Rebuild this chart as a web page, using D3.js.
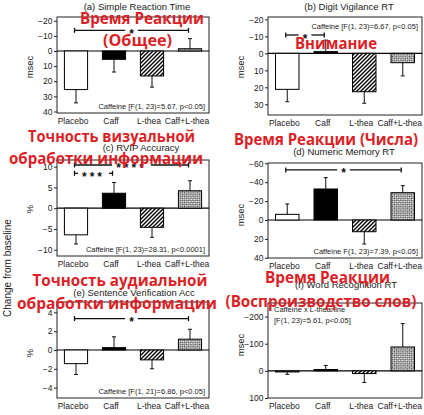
<!DOCTYPE html>
<html><head><meta charset="utf-8">
<script src="https://cdn.jsdelivr.net/npm/d3@7/dist/d3.min.js"></script>
<style>
html,body{margin:0;padding:0;background:#fff;}
svg{display:block;font-family:"Liberation Sans",Arial,sans-serif;}
</style></head>
<body>
<svg id="chart" width="424" height="415"></svg>
<script>
// ---------- data ----------
const categories = ["Placebo", "Caff", "L-thea", "Caff+L-thea"];

const titles = ["(a) Simple Reaction Time", "(b) Digit Vigilance RT", "(c) RVIP Accuracy",
                "(d) Numeric Memory RT", "(e) Sentence Verification Acc", "(f) Word Recognition RT"];
const yLabels = ["msec", "msec", "%", "msec", "%", "msec"];

const srtMeans = [25.5, 5.5, 16.5, -1.5];
const srtErr   = [8.8, 8.4, 7.4, 6.7];
const dvMeans  = [21.2, -1.0, 22.6, 5.5];
const dvErr    = [7.3, 6.8, 6.8, 7.8];
const rvipMeans = [-6.4, 3.6, -4.6, 4.2];
const rvipErr   = [2.2, 2.6, 2.4, 2.4];
const nmMeans  = [-6.0, -32.8, 12.4, -28.9];
const nmErr    = [11.0, 12.0, 13.0, 7.4];
const svMeans  = [-1.45, 0.25, -1.05, 1.15];
const svErr    = [1.15, 1.15, 0.95, 1.05];
const wrMeans  = [4, -5, 10, -88];
const wrErr    = [9, 15, 33, 86];

const srtTicks = [-20, -10, 0, 10, 20, 30, 40];
const dvTicks  = [-20, -10, 0, 10, 20, 30];
const rvipTicks = [-10, -5, 0, 5, 10];
const nmTicks  = [-60, -40, -20, 0, 20, 40];
const svTicks  = [-4, -2, 0, 2, 4];
const wrTicks  = [-200, -100, 0, 100];

const captions = [
  ["Caffeine [F(1, 23)=5.67, p<0.05]"],
  ["Caffeine [F(1, 23)=6.67, p<0.05]"],
  ["Caffeine [F(1, 23)=28.31, p<0.0001]"],
  ["Caffeine F(1, 23)=7.39, p<0.05]"],
  ["Caffeine [F(1, 21)=6.86, p<0.05]"],
  ["Caffeine x L-theanine", "[F(1, 23)=5.61, p<0.05]"]
];

// significance brackets: [panel, fromIndex, toIndex, level(value), stars]
const brackets = [
  [0, 0, 3, -13.7, "*"],
  [1, 0, 1, -10.8, "*"],
  [2, 0, 3, 10.4, "****"],
  [2, 0, 1, 8.4, "***"],
  [3, 0, 3, -53, "*"],
  [4, 0, 3, 3.34, "*"]
];

const overlayTexts = [
  "Время Реакции", "(Общее)", "Внимание",
  "Точность визуальной", "обработки информации",
  "Время Реакции (Числа)",
  "Точность аудиальной", "обработки информации",
  "Время Реакции", "(Воспроизводство слов)"
];

// ---------- layout ----------
const means = [srtMeans, dvMeans, rvipMeans, nmMeans, svMeans, wrMeans];
const errs  = [srtErr, dvErr, rvipErr, nmErr, svErr, wrErr];
const ticks = [srtTicks, dvTicks, rvipTicks, nmTicks, svTicks, wrTicks];
const L = {x0: 57, x1: 209}, R = {x0: 268, x1: 422};
const panels = [
  {x: L, y0: 17,  y1: 113, dom: [-22.5, 41],   tx: 137, ty: 10,  ly: 67,  cap: "br"},
  {x: R, y0: 17,  y1: 115, dom: [-21.4, 36.3], tx: 349, ty: 10,  ly: 67,  cap: "tr"},
  {x: L, y0: 160, y1: 256, dom: [11.6, -11.5], tx: 141, ty: 151, ly: 209, cap: "br"},
  {x: R, y0: 163, y1: 258, dom: [-60.3, 40.2], tx: 344, ty: 155, ly: 215, cap: "br"},
  {x: L, y0: 302, y1: 398, dom: [5.1, -5.1],   tx: 134, ty: 296, ly: 353, cap: "br"},
  {x: R, y0: 303, y1: 398, dom: [-250, 100],   tx: 346, ty: 288, ly: 345, cap: "tl"}
];
const overlayPos = [
  [142, 18, 124], [137.5, 40, 69], [336, 43, 82],
  [111.5, 136, 167], [106, 158, 194],
  [326, 139, 184],
  [120, 280, 175], [117, 303, 200],
  [327.5, 277, 125], [321, 301, 191]
];

const svg = d3.select("#chart");
const defs = svg.append("defs");
const hatch = defs.append("pattern").attr("id", "hatch").attr("patternUnits", "userSpaceOnUse")
  .attr("width", 4).attr("height", 4);
hatch.append("rect").attr("width", 4).attr("height", 4).attr("fill", "#fff");
hatch.append("path").attr("d", "M-1,1 L1,-1 M0,4 L4,0 M3,5 L5,3")
  .attr("stroke", "#000").attr("stroke-width", 1.4);
const check = defs.append("pattern").attr("id", "check").attr("patternUnits", "userSpaceOnUse")
  .attr("width", 3).attr("height", 3).attr("patternTransform", "rotate(45)");
check.append("rect").attr("width", 3).attr("height", 3).attr("fill", "#fff");
check.append("rect").attr("width", 1.5).attr("height", 1.5).attr("fill", "#444");
check.append("rect").attr("x", 1.5).attr("y", 1.5).attr("width", 1.5).attr("height", 1.5).attr("fill", "#444");
const fills = ["#fff", "#000", "url(#hatch)", "url(#check)"];

const scales = [];
panels.forEach((p, i) => {
  const g = svg.append("g");
  const x = d3.scaleBand().domain(categories).range([p.x.x0, p.x.x1]).paddingInner(0.39).paddingOuter(0.195);
  const y = d3.scaleLinear().domain(p.dom).range([p.y0, p.y1]);
  scales.push({x, y});

  // box
  g.append("rect").attr("x", p.x.x0).attr("y", p.y0).attr("width", p.x.x1 - p.x.x0).attr("height", p.y1 - p.y0)
    .attr("fill", "none").attr("stroke", "#222").attr("stroke-width", 1);

  // y axis
  const ya = g.append("g").attr("transform", `translate(${p.x.x0},0)`)
    .call(d3.axisLeft(y).tickValues(ticks[i]).tickSize(3).tickPadding(1.5).tickSizeOuter(0));
  ya.select(".domain").remove();
  ya.selectAll("text").attr("font-size", 8.5).attr("fill", "#222").attr("font-family", "Liberation Sans, Arial, sans-serif");
  ya.selectAll("line").attr("stroke", "#222");

  // x axis labels
  const xa = g.append("g").attr("transform", `translate(0,${p.y1})`)
    .call(d3.axisBottom(x).tickSize(0).tickPadding(5));
  xa.select(".domain").remove();
  xa.selectAll("text").attr("font-size", 8.5).attr("fill", "#222").attr("dx", -3)
    .attr("font-family", "Liberation Sans, Arial, sans-serif");

  // zero line
  g.append("line").attr("x1", p.x.x0).attr("x2", p.x.x1).attr("y1", y(0)).attr("y2", y(0))
    .attr("stroke", "#000").attr("stroke-width", 1.2);

  // bars
  const data = categories.map((c, k) => ({c, v: means[i][k], e: errs[i][k], k}));
  g.selectAll("rect.bar").data(data).enter().append("rect").attr("class", "bar")
    .attr("x", d => x(d.c)).attr("width", x.bandwidth())
    .attr("y", d => Math.min(y(0), y(d.v))).attr("height", d => Math.abs(y(d.v) - y(0)))
    .attr("fill", d => fills[d.k]).attr("stroke", "#000").attr("stroke-width", 1);

  // error bars
  const eb = g.selectAll("g.eb").data(data).enter().append("g").attr("class", "eb");
  const sgn = v => (v < 0 ? -1 : 1);
  eb.append("line").attr("x1", d => x(d.c) + x.bandwidth() / 2).attr("x2", d => x(d.c) + x.bandwidth() / 2)
    .attr("y1", d => y(d.v)).attr("y2", d => y(d.v + sgn(d.v) * d.e)).attr("stroke", "#111").attr("stroke-width", 1);
  eb.append("line").attr("x1", d => x(d.c) + x.bandwidth() / 2 - 2).attr("x2", d => x(d.c) + x.bandwidth() / 2 + 2)
    .attr("y1", d => y(d.v + sgn(d.v) * d.e)).attr("y2", d => y(d.v + sgn(d.v) * d.e)).attr("stroke", "#111").attr("stroke-width", 1);

  // title
  g.append("text").attr("x", p.tx).attr("y", p.ty).attr("text-anchor", "middle")
    .attr("font-size", 9.5).attr("fill", "#222").text(titles[i]);

  // y label
  const lx = p.x.x0 === L.x0 ? 33 : 244;
  g.append("text").attr("transform", `translate(${lx},${p.ly}) rotate(-90)`).attr("text-anchor", "middle")
    .attr("font-size", 9.5).attr("fill", "#222").text(yLabels[i]);

  // caption
  const cap = g.append("text").attr("font-size", 7.5).attr("fill", "#222");
  if (p.cap === "br") {
    cap.attr("x", p.x.x1 - 4).attr("y", p.y1 - 4).attr("text-anchor", "end").text(captions[i][0]);
  } else if (p.cap === "tr") {
    cap.attr("x", p.x.x1 - 4).attr("y", p.y0 + 12).attr("text-anchor", "end").text(captions[i][0]);
  } else {
    captions[i].forEach((t, j) => {
      cap.append("tspan").attr("x", p.x.x0 + 6).attr("y", p.y0 + 9 + j * 10.5).text(t);
    });
  }
});

// brackets
brackets.forEach(([pi, a, b, lv, stars]) => {
  const {x, y} = scales[pi];
  const xa = x(categories[a]) + x.bandwidth() / 2 - 1.5;
  const xb = x(categories[b]) + x.bandwidth() / 2 - 1.5;
  const yy = y(lv);
  const g = svg.append("g");
  const t = g.append("text").attr("x", (xa + xb) / 2).attr("y", yy + 7.5).attr("text-anchor", "middle")
    .attr("font-size", 12).attr("font-weight", "bold").attr("fill", "#111")
    .attr("letter-spacing", stars.length > 1 ? 3 : 0).text(stars);
  const w = t.node().getComputedTextLength() + 8;
  const cx = (xa + xb) / 2;
  [[xa, cx - w / 2], [cx + w / 2, xb]].forEach(([u, v]) => {
    g.append("line").attr("x1", u).attr("x2", v).attr("y1", yy).attr("y2", yy).attr("stroke", "#111").attr("stroke-width", 1.3);
  });
  [xa, xb].forEach(u => g.append("line").attr("x1", u).attr("x2", u).attr("y1", yy - 2.5).attr("y2", yy + 2.5)
    .attr("stroke", "#111").attr("stroke-width", 1.3));
});

// shared label
svg.append("text").attr("transform", "translate(11,268) rotate(-90)").attr("text-anchor", "middle")
  .attr("font-size", 10).attr("fill", "#222").text("Change from baseline");

// red overlay annotations
overlayTexts.forEach((t, i) => {
  const [cx, cy, w] = overlayPos[i];
  svg.append("text").attr("x", cx).attr("y", cy).attr("text-anchor", "middle").attr("dominant-baseline", "central")
    .attr("font-family", "Open Sans, sans-serif").attr("font-weight", "bold").attr("font-size", 16)
    .attr("fill", "#dc1f26").attr("textLength", w).attr("lengthAdjust", "spacingAndGlyphs").text(t);
});
</script>
</body></html>
